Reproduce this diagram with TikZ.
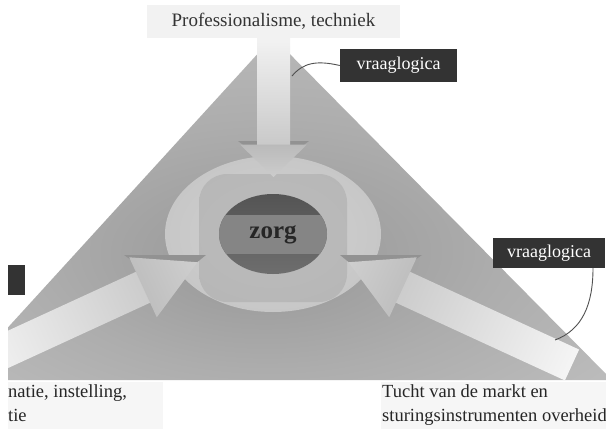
\documentclass[tikz,border=0pt]{standalone}
\usepackage{fontspec}
\setmainfont{Liberation Serif}
\definecolor{labelgray}{HTML}{333333}
\definecolor{wiregray}{HTML}{505050}
\definecolor{paper}{HTML}{F6F6F6}
\definecolor{bevel}{HTML}{929292}
\definecolor{trishadeA}{HTML}{979797}
\definecolor{trishadeB}{HTML}{ADADAD}
\definecolor{trishadeC}{HTML}{C4C4C4}
\definecolor{ringA}{HTML}{D2D2D2}
\definecolor{ringB}{HTML}{C4C4C4}
\definecolor{ringC}{HTML}{989898}
\pgfdeclareradialshading{trishade}{\pgfpoint{-2bp}{-8bp}}{color(0bp)=(trishadeA); color(18bp)=(trishadeB); color(42bp)=(trishadeC); color(60bp)=(trishadeC)}
\pgfdeclareradialshading{ringshade}{\pgfpoint{0bp}{0bp}}{color(0bp)=(ringA); color(32bp)=(ringB); color(50bp)=(ringC)}
\begin{document}
\begin{tikzpicture}[x=1pt,y=-1pt,
  lblbox/.style={fill=labelgray, text=white, inner sep=0pt,
    font=\fontsize{18}{20}\selectfont},
  wire/.style={draw=wiregray, line width=0.9pt},
  txt/.style={inner sep=0pt, font=\fontsize{18.5}{24}\selectfont, align=left, anchor=north west},
  shaftlook/.style={left color=white!96!black, right color=white!80!black},
  headlook/.style={top color=white!73!black, bottom color=white!80!black}
]
\useasboundingbox[fill=white] (0,0) rectangle (606,429);
\begin{scope}
\clip (8,0) rectangle (606,429);
% text panels at the bottom
\fill[paper] (8,382) rectangle (163,429);
\fill[paper] (381,382) rectangle (606,429);
% big triangle
\coordinate (apex) at (273,37);
\coordinate (bl) at (-40,380);
\coordinate (br) at (612,380);
\shade[shading=trishade] (apex) -- (bl) -- (br) -- cycle;
% outer ring
\shade[shading=ringshade] (273,234) ellipse [x radius=108pt, y radius=78pt];
\shade[left color=white!66!black, middle color=white!84!black, right color=white!66!black, opacity=0.5,
  rounded corners=28pt] (199,174) rectangle (347,302);
% dark inner ellipse
\shade[top color=white!33!black, bottom color=white!43!black] (273,234) ellipse [x radius=54pt, y radius=40pt];
\begin{scope}
\clip (273,234) ellipse [x radius=54pt, y radius=40pt];
\shade[left color=white!52!black, middle color=white!76!black, right color=white!52!black] (215,215) rectangle (331,253);
\end{scope}
\node[inner sep=0pt, text=black!85, font=\bfseries\fontsize{25}{26}\selectfont] (zorg) at (273,235) {zorg};
% top arrow
\fill[bevel] (238,141) -- (309,141) -- (273.5,168) -- cycle;
\shade[top color=white!95!black, bottom color=white!79!black] (257,38) rectangle (290,144);
\shade[headlook] (240,144.5) -- (307,144.5) -- (273.5,177) -- cycle;
% left arrow
\fill[bevel] (124,255) -- (206,255) -- (168,286) -- cycle;
\begin{scope}[transform canvas={shift={(-26,365)}, rotate=24.7}]
\shade[shaftlook] (0,-17) rectangle (187,17);
\shade[left color=white!75!black, right color=white!81!black] (186,-33) -- (246,0) -- (186,33) -- cycle;
\end{scope}
% right arrow
\fill[bevel] (340,255) -- (422,255) -- (378,286) -- cycle;
\begin{scope}[transform canvas={shift={(572,365)}, rotate=155.3}]
\shade[shaftlook] (0,-17) rectangle (187,17);
\shade[left color=white!75!black, right color=white!81!black] (186,-33) -- (246,0) -- (186,33) -- cycle;
\end{scope}
% labels
\node[fill=white!95!black, inner sep=0pt, minimum width=253pt, minimum height=33pt,
  font=\fontsize{19}{20}\selectfont, text=black!80] (prof) at (273.5,21.5) {Professionalisme, techniek};
\node[lblbox, minimum width=117pt, minimum height=33pt] (vt) at (398.5,65.5) {vraaglogica};
\node[lblbox, minimum width=112pt, minimum height=30pt] (vr) at (549,253) {vraaglogica};
\node[lblbox, minimum width=120pt, minimum height=30pt] (vl) at (-35,280) {};
\coordinate (c1) at (292,76);
\coordinate (c2) at (555,340);
\draw[wire] (vt.west) .. controls (316,60) and (303,63) .. (c1);
\draw[wire] ([xshift=44pt]vr.south) .. controls (593,305) and (582,330) .. (c2);
% bottom texts
\node[txt, text=black!85] (lt) at (8,384) {natie, instelling,\\tie};
\node[txt, text=black!85] (rt) at (382,384) {Tucht van de markt en\\sturingsinstrumenten overheid};
\end{scope}
\end{tikzpicture}
\end{document}
